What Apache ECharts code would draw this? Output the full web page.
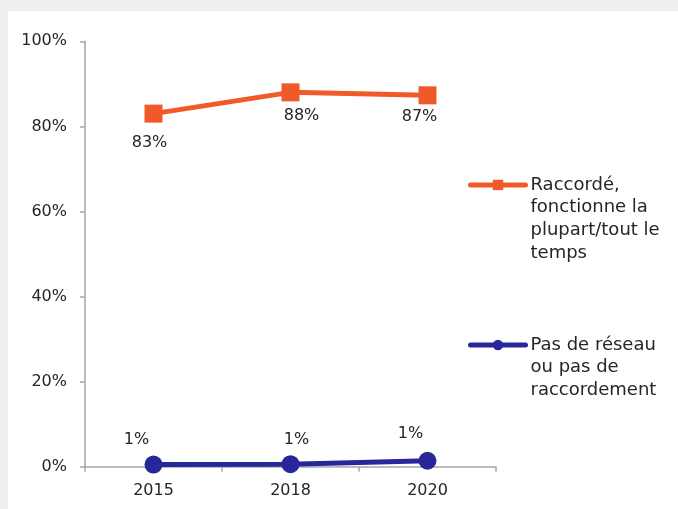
<!DOCTYPE html>
<html>
<head>
<meta charset="utf-8">
<script src="https://cdn.jsdelivr.net/npm/echarts@6/dist/echarts.min.js"></script>
<style>
html,body{margin:0;padding:0;background:#eeeeee;}
#chart{width:678px;height:509px;}
</style>
</head>
<body>
<div id="chart"></div>
<script>
// ---- data ----
const categories = ['2015', '2018', '2020'];
const seriesNames = ['Raccordé,\nfonctionne la\nplupart/tout le\ntemps', 'Pas de réseau\nou pas de\nraccordement'];
const connectedValues = [83, 88, 87.3];
const noNetworkValues = [0.5, 0.6, 1.4];
const yTickValues = [0, 20, 40, 60, 80, 100];

// ---- layout (not data) ----
const orangeLabelOffsets = [[-4, 29], [11, 23], [-8, 22]];
const blueLabelOffsets = [[-17, -25], [6, -24], [-17, -27]];

const ORANGE = '#F05A28';
const BLUE = '#27279A';
const AXIS = '#A6A6A6';
const TEXT = '#262626';
const FONT = 'DejaVu Sans';

function withLabels(values, offsets) {
  return values.map((v, i) => ({ value: v, label: { offset: offsets[i] } }));
}
// put the first text line level with the legend icon
function topAligned(name) {
  const n = name.split('\n').length;
  return '\n'.repeat(n - 1) + name;
}

const chart = echarts.init(document.getElementById('chart'), null, { renderer: 'canvas' });
const legendCommon = {
  padding: 0,
  selectedMode: false,
  itemWidth: 55, itemHeight: 13,
  formatter: topAligned,
  lineStyle: { width: 5, cap: 'round' },
  textStyle: { fontFamily: FONT, fontSize: 18, color: TEXT, lineHeight: 22.7 }
};
chart.setOption({
  backgroundColor: '#eeeeee',
  animation: false,
  textStyle: { fontFamily: FONT, color: TEXT },
  graphic: [{
    type: 'rect', left: 8, top: 11, z: -10, silent: true,
    shape: { width: 670, height: 498 },
    style: { fill: '#ffffff' }
  }],
  grid: { left: 85, right: 182, top: 41.3, bottom: 42.3, containLabel: false },
  xAxis: {
    type: 'category',
    data: categories,
    boundaryGap: true,
    axisLine: { lineStyle: { color: AXIS, width: 1.5 } },
    axisTick: { show: true, length: 5, alignWithLabel: false, lineStyle: { color: AXIS, width: 1.5 } },
    axisLabel: { fontFamily: FONT, fontSize: 16, color: TEXT, margin: 16 },
    splitLine: { show: false }
  },
  yAxis: {
    type: 'value',
    min: yTickValues[0],
    max: yTickValues[yTickValues.length - 1],
    interval: yTickValues[1] - yTickValues[0],
    axisLine: { show: true, lineStyle: { color: AXIS, width: 1.5 } },
    axisTick: { show: true, length: 5, lineStyle: { color: AXIS, width: 1.5 } },
    axisLabel: { fontFamily: FONT, fontSize: 16, color: TEXT, margin: 18, formatter: '{value}%' },
    splitLine: { show: false }
  },
  legend: [
    Object.assign({ data: [seriesNames[0]], left: 468, top: 105.5 }, legendCommon),
    Object.assign({ data: [seriesNames[1]], left: 468, top: 288.3 }, legendCommon)
  ],
  series: [
    {
      name: seriesNames[0],
      type: 'line',
      data: withLabels(connectedValues, orangeLabelOffsets),
      symbol: 'rect',
      symbolSize: 18,
      color: ORANGE,
      itemStyle: { color: ORANGE },
      lineStyle: { color: ORANGE, width: 5, cap: 'round' },
      label: {
        show: true, position: 'inside', fontFamily: FONT, fontSize: 16, color: TEXT,
        formatter: p => Math.round(p.value) + '%'
      }
    },
    {
      name: seriesNames[1],
      type: 'line',
      data: withLabels(noNetworkValues, blueLabelOffsets),
      symbol: 'circle',
      symbolSize: 18,
      color: BLUE,
      itemStyle: { color: BLUE },
      lineStyle: { color: BLUE, width: 5, cap: 'round' },
      label: {
        show: true, position: 'inside', fontFamily: FONT, fontSize: 16, color: TEXT,
        formatter: p => Math.round(p.value) + '%'
      }
    }
  ]
});
</script>
</body>
</html>
